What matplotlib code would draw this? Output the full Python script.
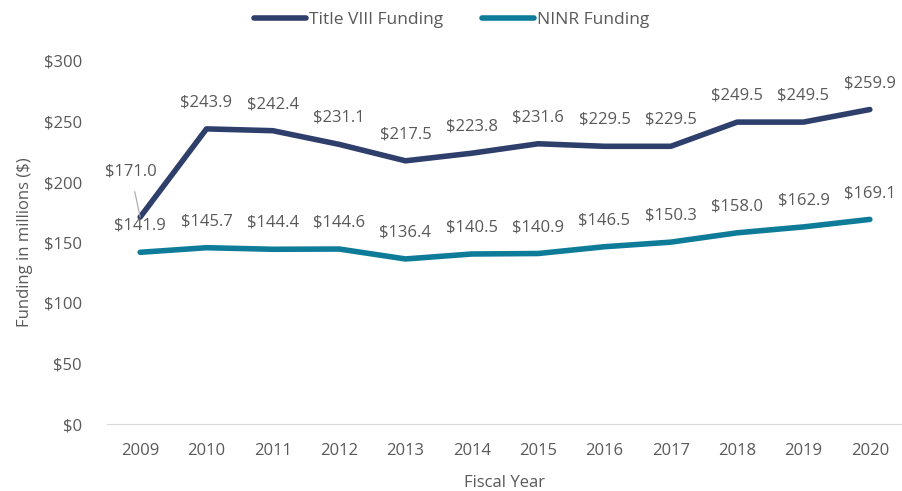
import matplotlib
matplotlib.use("Agg")
from matplotlib import pyplot as plt

years = [2009, 2010, 2011, 2012, 2013, 2014, 2015, 2016, 2017, 2018, 2019, 2020]
title8 = [171.0, 243.9, 242.4, 231.1, 217.5, 223.8, 231.6, 229.5, 229.5, 249.5, 249.5, 259.9]
ninr = [141.9, 145.7, 144.4, 144.6, 136.4, 140.5, 140.9, 146.5, 150.3, 158.0, 162.9, 169.1]

navy = "#2E3F6B"
teal = "#0E7C99"
grey = "#595959"

plt.rcParams["font.family"] = ["Open Sans", "DejaVu Sans"]
fs = 12

fig = plt.figure(figsize=(9.03, 4.91), dpi=100)
ax = fig.add_axes([107 / 903, 67 / 491, 796 / 903, 363 / 491])

x = list(range(len(years)))
ax.plot(x, title8, color=navy, lw=4, solid_capstyle="round", label="Title VIII Funding")
ax.plot(x, ninr, color=teal, lw=4, solid_capstyle="round", label="NINR Funding")

# 数据标签
for i, v in enumerate(title8):
    if i == 0:
        ax.annotate("${:.1f}".format(v), xy=(i, v), xytext=(-7, 33), textcoords="offset points",
                    ha="center", va="center", fontsize=fs, color=grey,
                    arrowprops=dict(arrowstyle="-", color="#A6A6A6", lw=0.8, shrinkA=7, shrinkB=0))
    else:
        ax.annotate("${:.1f}".format(v), xy=(i, v), xytext=(0, 19), textcoords="offset points",
                    ha="center", va="center", fontsize=fs, color=grey)
for i, v in enumerate(ninr):
    ax.annotate("${:.1f}".format(v), xy=(i, v), xytext=(0, 19), textcoords="offset points",
                ha="center", va="center", fontsize=fs, color=grey)

ax.set_xlim(-0.5, len(years) - 0.5)
ax.set_ylim(0, 300)
ax.set_yticks(range(0, 301, 50))
ax.set_yticklabels(["${}".format(t) for t in range(0, 301, 50)])
ax.set_xticks(x)
ax.set_xticklabels([str(y) for y in years])
ax.tick_params(length=0, labelsize=fs, colors=grey)
ax.tick_params(axis="x", pad=14)
ax.tick_params(axis="y", pad=18)

for s in ["top", "right", "left"]:
    ax.spines[s].set_visible(False)
ax.spines["bottom"].set_color("#D9D9D9")

ax.set_xlabel("Fiscal Year", fontsize=fs, color=grey, labelpad=11)
ax.set_ylabel("Funding in millions ($)", fontsize=fs, color=grey, labelpad=8)

fig.legend(loc="upper center", bbox_to_anchor=(0.5, 1.008), ncol=2, frameon=False,
           fontsize=12.5, labelcolor=grey, handlelength=3.0, handletextpad=0.2, columnspacing=2.2)

fig.savefig("out.png", dpi=100)
